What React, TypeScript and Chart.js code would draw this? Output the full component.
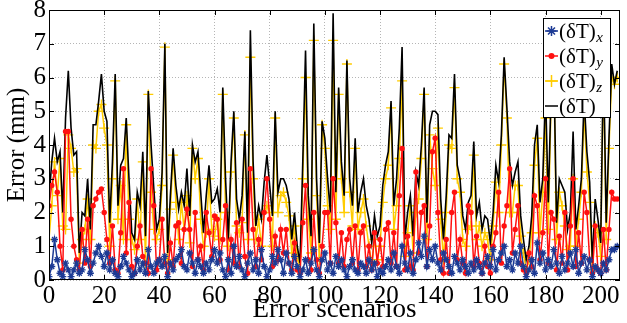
import React, { useEffect, useRef } from 'react';
import { Chart, registerables } from 'chart.js';

Chart.register(...registerables);

// Error scenario index values 0..206
const errTotal = [
  2.4, 3.5, 4.2, 3.5, 3.8, 2.0, 4.8, 6.2, 4.5, 3.7,
  3.8, 0.8, 2.0, 1.9, 3.0, 1.5, 4.6, 4.6, 5.3, 6.1,
  5.0, 4.7, 1.7, 3.5, 6.1, 2.2, 3.4, 3.6, 4.8, 3.0,
  1.4, 1.2, 2.6, 2.2, 3.8, 1.3, 5.6, 4.0, 2.7, 1.5,
  1.8, 3.2, 7.0, 0.8, 2.5, 3.9, 2.8, 2.1, 2.6, 2.2,
  3.3, 1.9, 4.0, 3.5, 3.8, 2.6, 1.4, 2.5, 3.4, 2.3,
  2.4, 2.7, 2.0, 5.7, 3.0, 1.2, 3.5, 5.0, 2.4, 1.8,
  2.5, 4.4, 1.4, 7.4, 3.5, 1.6, 2.2, 1.8, 2.9, 3.7,
  2.8, 1.9, 5.0, 2.6, 3.0, 3.0, 2.8, 2.4, 1.2, 2.0,
  1.0, 0.5, 3.5, 6.8, 2.5, 1.3, 7.6, 3.0, 1.1, 4.7,
  4.2, 3.0, 2.0, 7.9, 2.6, 5.7, 3.5, 2.5, 6.5, 3.0,
  2.2, 4.2, 2.0, 2.6, 3.0, 2.2, 1.8, 1.1, 1.9, 1.3,
  1.6, 2.8, 3.4, 3.8, 5.3, 2.2, 3.0, 4.5, 6.9, 1.2,
  2.0, 2.5, 1.3, 3.2, 2.8, 4.0, 5.7, 1.7, 4.6, 5.0,
  5.0, 4.9, 2.4, 1.2, 2.5, 4.3, 4.2, 6.1, 3.4, 3.0,
  1.9, 1.5, 2.3, 2.5, 4.1, 1.9, 2.3, 1.5, 1.9, 1.8,
  1.1, 2.0, 3.4, 2.9, 4.3, 6.6, 5.1, 3.5, 2.8, 3.2,
  3.5, 1.9, 1.2, 0.6, 1.0, 1.9, 4.0, 4.6, 2.3, 3.0,
  5.6, 2.3, 5.5, 6.5, 1.7, 3.0, 2.8, 2.6, 1.5, 2.0,
  4.4, 1.5, 2.2, 3.0, 5.4, 3.8, 2.9, 0.5, 2.4, 1.8,
  1.1, 6.6, 1.7, 4.2, 6.4, 5.8, 6.2,
];

const errZ = [
  1.2, 2.2, 3.5, 2.5, 3.6, 1.6, 1.5, 4.3, 3.9, 3.2,
  3.3, 0.5, 1.2, 1.5, 2.4, 1.2, 4.0, 3.9, 5.0, 5.2,
  4.5, 4.0, 1.0, 3.0, 5.9, 1.8, 2.8, 1.2, 4.6, 1.8,
  1.2, 0.9, 2.4, 1.2, 3.5, 0.5, 5.5, 2.6, 1.5, 1.2,
  1.5, 2.8, 6.9, 0.6, 2.1, 3.7, 2.3, 1.2, 2.3, 1.5,
  2.5, 1.1, 3.9, 3.0, 3.6, 1.8, 1.0, 1.4, 3.0, 1.5,
  1.3, 1.8, 1.2, 5.5, 2.0, 1.0, 3.2, 4.8, 1.6, 1.4,
  1.7, 4.3, 1.2, 6.6, 3.0, 1.2, 1.8, 1.0, 2.0, 2.2,
  2.0, 1.0, 4.8, 2.0, 2.5, 2.6, 2.3, 1.9, 0.8, 1.6,
  0.7, 0.3, 3.0, 6.0, 1.8, 0.8, 7.1, 2.5, 0.6, 4.6,
  3.9, 2.2, 1.5, 7.1, 1.8, 5.5, 3.0, 2.0, 6.4, 2.6,
  1.6, 3.9, 1.5, 2.0, 2.4, 1.6, 1.0, 0.5, 1.2, 0.6,
  1.0, 2.3, 3.0, 3.4, 5.1, 1.5, 2.2, 3.6, 5.9, 0.7,
  1.4, 2.2, 0.8, 2.0, 2.4, 3.6, 5.5, 1.2, 4.3, 3.3,
  2.8, 4.5, 1.8, 0.6, 2.0, 4.0, 3.9, 5.7, 3.0, 2.6,
  1.2, 1.0, 1.5, 1.6, 3.7, 1.2, 1.6, 1.0, 1.4, 1.2,
  0.6, 1.6, 2.9, 2.0, 4.0, 6.4, 4.8, 2.0, 2.0, 2.8,
  2.8, 1.3, 0.8, 0.3, 0.6, 1.4, 3.4, 4.2, 1.4, 2.6,
  4.8, 1.5, 5.2, 6.2, 1.2, 2.6, 2.2, 1.6, 0.9, 1.0,
  3.0, 1.0, 1.8, 2.6, 5.0, 3.2, 2.3, 0.3, 1.6, 1.4,
  0.7, 6.3, 1.2, 3.9, 6.0, 5.8, 6.0,
];

const errY = [
  2.2, 2.8, 3.2, 2.6, 1.0, 0.3, 4.4, 4.4, 1.8, 1.0,
  0.6, 0.3, 1.5, 0.5, 1.8, 0.4, 2.2, 2.4, 2.6, 2.7,
  2.0, 1.2, 0.5, 1.6, 0.3, 0.2, 1.4, 3.3, 0.8, 2.3,
  0.4, 0.2, 1.0, 1.6, 0.7, 0.5, 0.2, 3.3, 2.2, 0.3,
  0.6, 1.8, 0.5, 0.2, 1.1, 0.4, 1.6, 1.7, 0.5, 1.5,
  2.1, 1.5, 0.4, 2.0, 0.6, 1.0, 0.3, 2.0, 1.4, 0.7,
  1.9, 1.8, 0.6, 1.2, 2.2, 0.3, 1.2, 0.5, 1.7, 0.4,
  1.8, 0.7, 0.2, 3.3, 1.5, 0.4, 1.2, 0.6, 2.0, 3.0,
  1.8, 0.4, 1.3, 0.6, 1.5, 0.8, 1.5, 0.5, 0.3, 1.1,
  0.3, 0.2, 1.7, 2.8, 0.6, 0.3, 2.0, 0.6, 0.2, 1.0,
  2.0, 2.0, 0.5, 3.0, 1.7, 0.5, 1.4, 0.4, 1.2, 1.5,
  0.5, 1.6, 0.3, 1.4, 1.6, 0.4, 1.0, 0.3, 1.4, 0.5,
  1.2, 0.4, 1.5, 1.7, 0.5, 1.4, 0.4, 2.5, 3.9, 0.3,
  1.3, 0.4, 0.3, 3.2, 0.8, 2.0, 2.2, 0.4, 1.6, 3.8,
  4.2, 2.0, 0.6, 0.2, 1.2, 0.2, 2.0, 2.6, 0.6, 1.2,
  0.5, 0.2, 2.2, 2.0, 0.4, 1.3, 0.5, 0.2, 1.0, 0.4,
  0.2, 1.0, 1.4, 2.6, 0.5, 1.6, 2.2, 3.3, 0.8, 1.5,
  2.2, 0.5, 0.3, 0.2, 0.8, 0.4, 2.5, 2.2, 0.6, 1.4,
  3.0, 0.5, 2.0, 1.8, 0.3, 1.3, 0.5, 2.0, 0.3, 1.6,
  3.0, 0.4, 1.4, 0.5, 2.6, 2.0, 0.6, 0.2, 1.6, 0.3,
  0.2, 1.5, 0.3, 1.5, 2.6, 2.4, 2.4,
];

const errX = [
  0.1, 0.4, 1.2, 0.6, 0.2, 0.1, 0.5, 0.3, 0.1, 0.3,
  0.5, 0.2, 0.3, 0.9, 0.6, 0.2, 0.5, 0.8, 1.0, 0.7,
  0.4, 0.8, 0.3, 0.6, 0.2, 0.1, 0.4, 0.7, 0.5, 0.3,
  0.1, 0.2, 0.6, 0.3, 0.5, 0.2, 0.9, 0.4, 0.2, 0.5,
  0.6, 0.4, 0.7, 0.1, 0.5, 0.3, 0.6, 0.7, 0.9, 0.4,
  0.3, 0.8, 0.5, 0.2, 0.6, 0.4, 0.2, 0.5, 0.3, 0.6,
  0.9, 0.5, 0.8, 0.3, 0.1, 0.6, 0.2, 1.0, 0.4, 0.7,
  0.3, 0.1, 0.5, 0.8, 0.3, 0.6, 0.2, 0.9, 0.4, 0.1,
  0.3, 0.7, 0.5, 0.9, 0.6, 0.2, 0.8, 0.5, 0.2, 0.7,
  0.4, 0.1, 0.3, 0.6, 0.2, 0.5, 0.9, 0.3, 0.1, 0.6,
  0.8, 0.3, 0.5, 0.2, 0.7, 0.4, 0.6, 0.3, 0.1, 0.4,
  0.6, 0.3, 0.2, 0.5, 0.4, 0.2, 0.6, 0.3, 0.5, 0.1,
  0.3, 0.2, 0.4, 0.6, 0.3, 0.8, 0.4, 0.2, 1.0, 0.5,
  0.3, 0.8, 0.2, 0.6, 1.1, 0.7, 1.3, 0.4, 0.9, 0.6,
  1.0, 0.5, 0.3, 0.8, 0.6, 0.4, 0.2, 0.7, 0.5, 0.3,
  0.6, 0.4, 0.2, 0.5, 0.3, 0.6, 0.4, 0.2, 0.5, 0.7,
  0.4, 0.9, 0.3, 0.6, 0.8, 1.0, 0.4, 0.6, 0.3, 0.8,
  0.5, 1.0, 0.4, 0.1, 0.3, 0.6, 0.2, 1.1, 0.5, 0.8,
  0.3, 0.6, 0.4, 0.9, 0.5, 0.2, 0.7, 0.3, 0.5, 0.8,
  0.4, 0.9, 0.2, 0.5, 0.7, 0.3, 0.6, 0.1, 0.4, 0.3,
  0.2, 0.5, 0.3, 0.6, 0.9, 0.9, 1.0,
];

const xTickStep = 20;
const yTickStep = 1;
const legendLabels = ['(δT)', '(δT)', '(δT)', '(δT)'];
const legendSubs = ['x', 'y', 'z', ''];

const FONT = '"Liberation Serif", "Times New Roman", Times, serif';
const BLUE = '#1c3a94';
const RED = '#ff1010';
const YELLOW = '#ffcc00';
const BLACK = '#000000';

const toPoints = (arr: number[]) => arr.map((v, i) => ({ x: i, y: v }));

function drawMarker(ctx: CanvasRenderingContext2D, style: string, x: number, y: number, r: number, color: string) {
  ctx.save();
  ctx.strokeStyle = color;
  ctx.fillStyle = color;
  ctx.lineWidth = 1.5;
  ctx.beginPath();
  if (style === 'star') {
    ctx.moveTo(x - r, y); ctx.lineTo(x + r, y);
    ctx.moveTo(x, y - r); ctx.lineTo(x, y + r);
    const d = r * 0.7;
    ctx.moveTo(x - d, y - d); ctx.lineTo(x + d, y + d);
    ctx.moveTo(x - d, y + d); ctx.lineTo(x + d, y - d);
    ctx.stroke();
  } else if (style === 'circle') {
    ctx.arc(x, y, r, 0, Math.PI * 2);
    ctx.fill();
  } else if (style === 'cross') {
    ctx.moveTo(x - r, y); ctx.lineTo(x + r, y);
    ctx.moveTo(x, y - r); ctx.lineTo(x, y + r);
    ctx.stroke();
  }
  ctx.restore();
}

const framePlugin = {
  id: 'frame',
  afterDraw(chart: any) {
    const { ctx, chartArea } = chart;
    const { left, right, top, bottom } = chartArea;
    ctx.save();
    ctx.strokeStyle = '#000';
    ctx.lineWidth = 1;
    ctx.strokeRect(left + 0.5, top + 0.5, right - left - 1, bottom - top - 1);
    const xs = chart.scales.x;
    const ys = chart.scales.y;
    const tl = 5;
    ctx.beginPath();
    xs.ticks.forEach((t: any) => {
      const px = Math.round(xs.getPixelForValue(t.value)) + 0.5;
      ctx.moveTo(px, bottom); ctx.lineTo(px, bottom - tl);
      ctx.moveTo(px, top); ctx.lineTo(px, top + tl);
    });
    ys.ticks.forEach((t: any) => {
      const py = Math.round(ys.getPixelForValue(t.value)) + 0.5;
      ctx.moveTo(left, py); ctx.lineTo(left + tl, py);
      ctx.moveTo(right, py); ctx.lineTo(right - tl, py);
    });
    ctx.stroke();
    ctx.restore();

    // legend
    const bx = 543, by = 18, bw = 67, bh = 99;
    ctx.save();
    ctx.fillStyle = '#fff';
    ctx.fillRect(bx, by, bw, bh);
    ctx.strokeStyle = '#000';
    ctx.lineWidth = 1;
    ctx.strokeRect(bx + 0.5, by + 0.5, bw, bh);
    chart.data.datasets.forEach((ds: any, i: number) => {
      const cy = by + 13 + i * 25;
      ctx.strokeStyle = ds.borderColor;
      ctx.lineWidth = 1.5;
      ctx.beginPath();
      ctx.moveTo(bx + 2, cy);
      ctx.lineTo(bx + 15, cy);
      ctx.stroke();
      if (ds.pointRadius > 0) {
        drawMarker(ctx, ds.pointStyle, bx + 8.5, cy, ds.legendR, ds.borderColor);
      }
      ctx.fillStyle = '#000';
      ctx.textBaseline = 'middle';
      ctx.textAlign = 'left';
      ctx.font = `21px ${FONT}`;
      const tx = bx + 16;
      ctx.fillText(legendLabels[i], tx, cy + 1);
      const w = ctx.measureText(legendLabels[i]).width;
      if (legendSubs[i]) {
        ctx.font = `italic 15px ${FONT}`;
        ctx.fillText(legendSubs[i], tx + w + 0.5, cy + 7);
      }
    });
    ctx.restore();
  },
};

export default function App() {
  const canvasRef = useRef<HTMLCanvasElement | null>(null);

  useEffect(() => {
    const canvas = canvasRef.current;
    if (!canvas) return;
    const chart = new Chart(canvas, {
      type: 'line',
      data: {
        datasets: [
          {
            label: '(δT)x',
            data: toPoints(errX),
            borderColor: BLUE,
            backgroundColor: BLUE,
            borderWidth: 1.5,
            pointStyle: 'star',
            pointRadius: 3.5,
            pointBorderWidth: 1.3,
            pointBorderColor: BLUE,
            tension: 0,
            order: 0,
            legendR: 5,
          } as any,
          {
            label: '(δT)y',
            data: toPoints(errY),
            borderColor: RED,
            backgroundColor: RED,
            borderWidth: 1.5,
            pointStyle: 'circle',
            pointRadius: 2.7,
            pointBorderWidth: 0,
            tension: 0,
            order: 1,
            legendR: 3,
          } as any,
          {
            label: '(δT)z',
            data: toPoints(errZ),
            borderColor: YELLOW,
            backgroundColor: YELLOW,
            borderWidth: 1.5,
            pointStyle: 'cross',
            pointRadius: 5,
            pointBorderWidth: 1.3,
            pointBorderColor: YELLOW,
            tension: 0,
            order: 3,
            legendR: 6,
          } as any,
          {
            label: '(δT)',
            data: toPoints(errTotal),
            borderColor: BLACK,
            backgroundColor: BLACK,
            borderWidth: 1.6,
            pointRadius: 0,
            tension: 0,
            order: 2,
            legendR: 0,
          } as any,
        ],
      },
      options: {
        animation: false,
        responsive: false,
        maintainAspectRatio: false,
        layout: { padding: { left: 0, right: 7, top: 10, bottom: 0 } },
        plugins: {
          legend: { display: false },
          tooltip: { enabled: false },
        },
        scales: {
          x: {
            type: 'linear',
            min: 0,
            max: 207,
            ticks: {
              stepSize: xTickStep,
              includeBounds: false,
              autoSkip: false,
              maxRotation: 0,
              padding: 1,
              color: '#000',
              font: { family: FONT, size: 25 },
            },
            grid: { color: '#b5b5b5', drawTicks: false, lineWidth: 1 },
            border: { display: false, dash: [1, 2] },
            title: {
              display: true,
              text: 'Error scenarios',
              color: '#000',
              font: { family: FONT, size: 27, lineHeight: 1 },
              padding: 0,
            },
            afterFit: (s: any) => {
              s.height = 43;
              s.paddingLeft = 0;
              s.paddingRight = 0;
            },
          },
          y: {
            type: 'linear',
            min: 0,
            max: 8,
            ticks: {
              stepSize: yTickStep,
              padding: 3,
              color: '#000',
              font: { family: FONT, size: 25 },
            },
            grid: { color: '#b5b5b5', drawTicks: false, lineWidth: 1 },
            border: { display: false, dash: [1, 2] },
            title: {
              display: true,
              text: 'Error (mm)',
              color: '#000',
              font: { family: FONT, size: 25, lineHeight: 1 },
              padding: { top: 5, bottom: 0 },
            },
            afterFit: (s: any) => {
              s.width = 49;
              s.paddingTop = 0;
              s.paddingBottom = 0;
            },
          },
        },
      } as any,
      plugins: [framePlugin],
    });
    return () => chart.destroy();
  }, []);

  return (
    <div style={{ position: 'fixed', left: 0, top: 0, width: 627, height: 323, background: '#fff' }}>
      <canvas ref={canvasRef} width={627} height={323} style={{ width: 627, height: 323, display: 'block' }} />
    </div>
  );
}
